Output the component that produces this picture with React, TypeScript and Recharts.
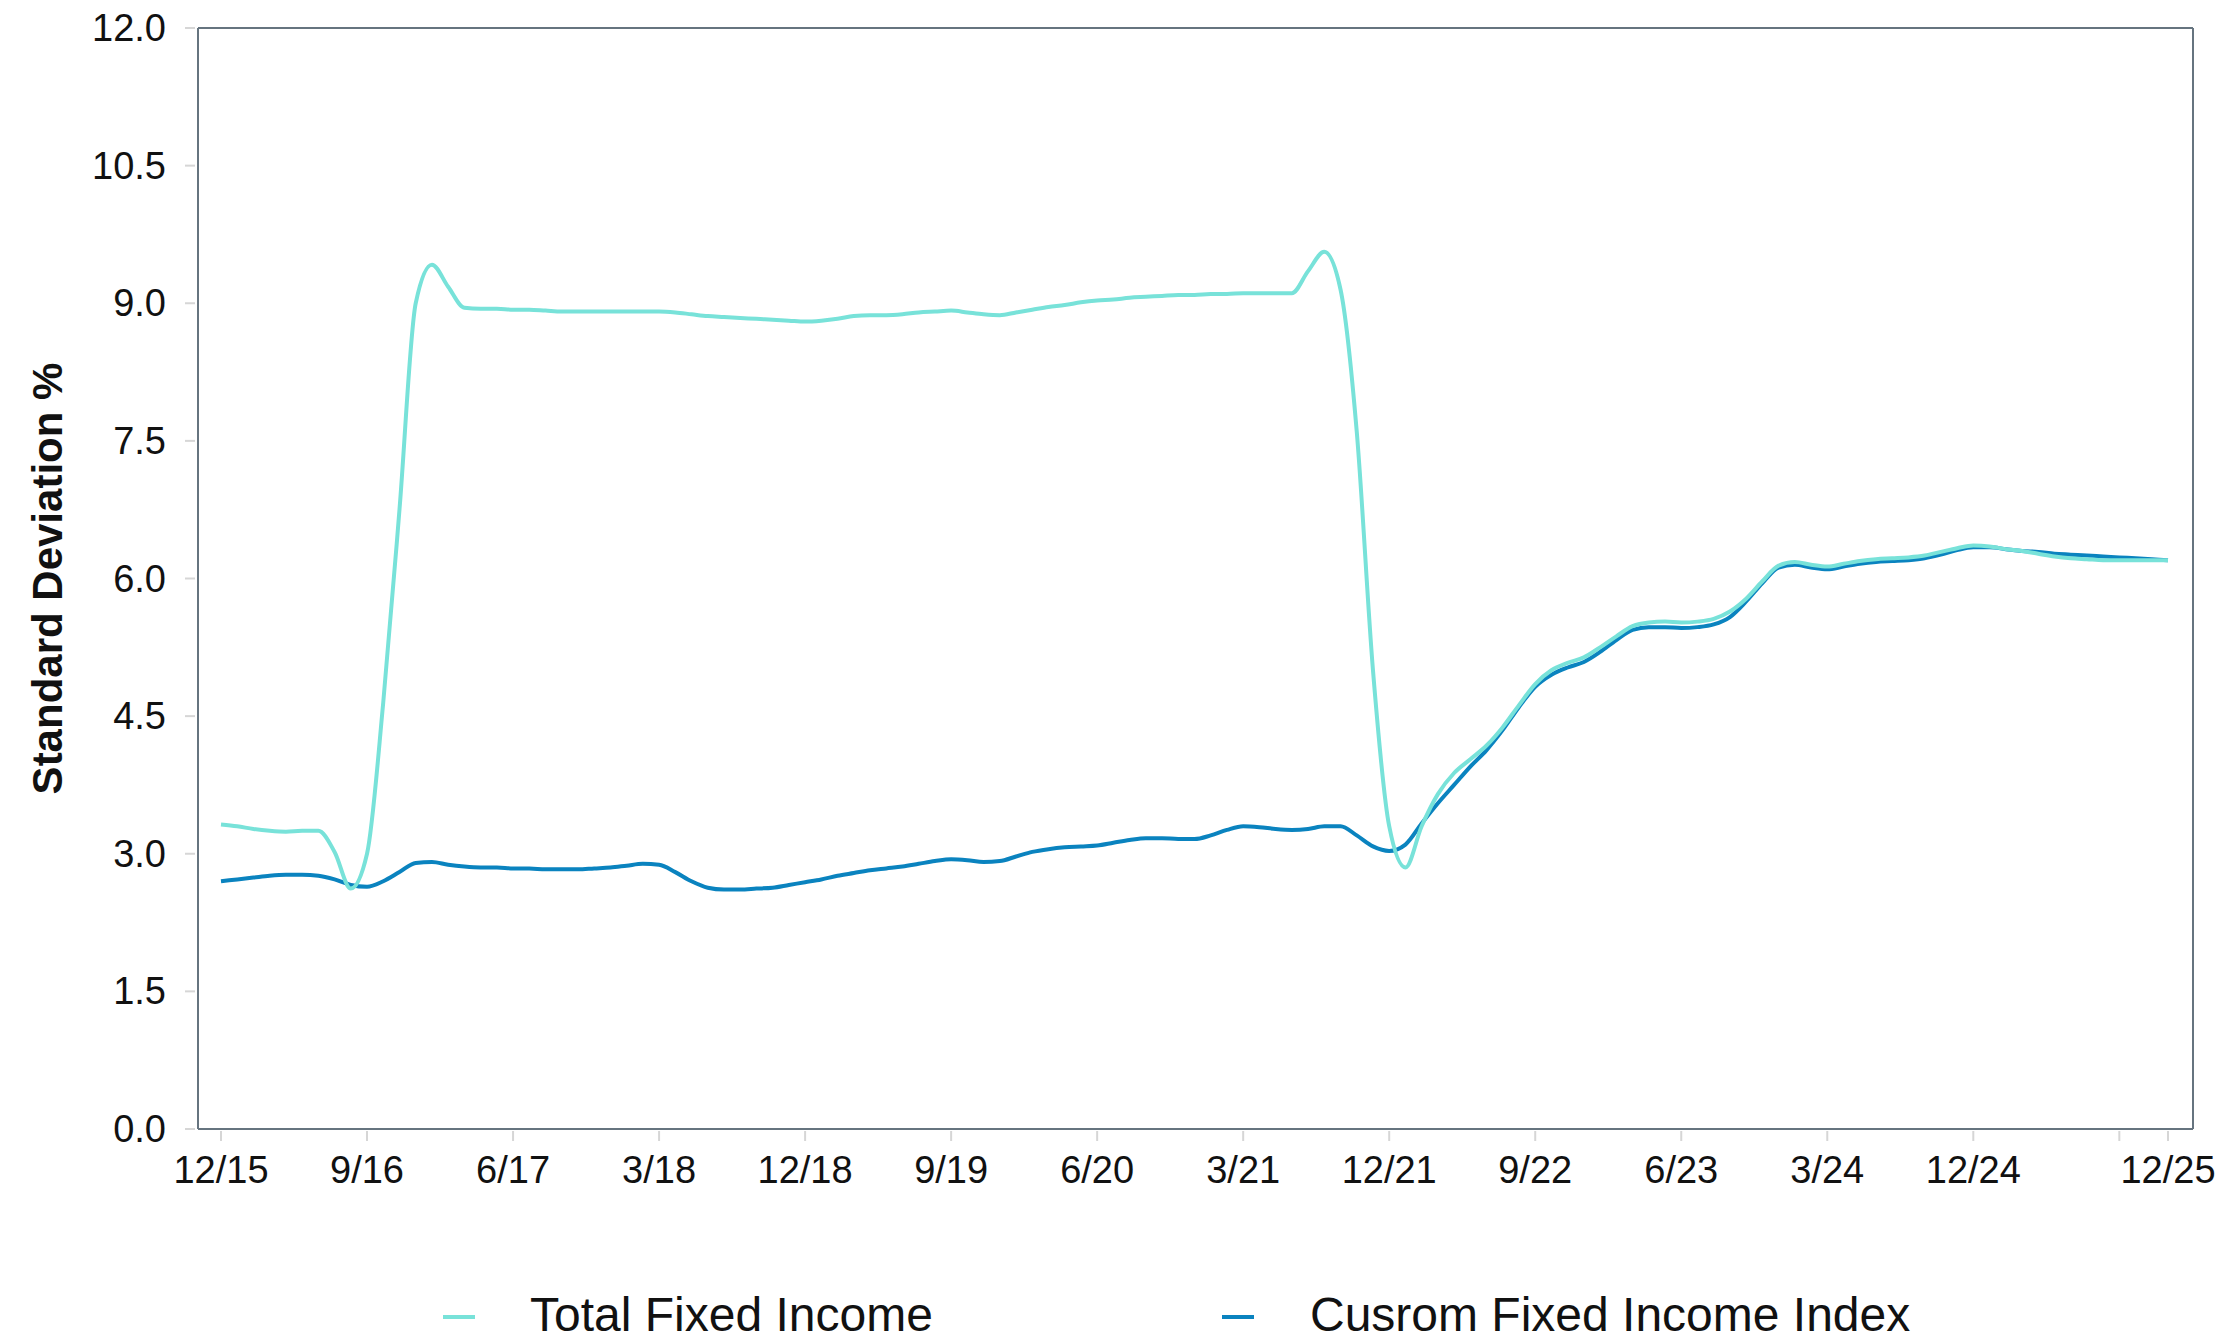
import { LineChart, Line, XAxis, YAxis, CartesianGrid } from "recharts";

// monthly, 12/15 .. 12/25 (index 0..120)
const totalFixedIncome = [
  3.32, 3.30, 3.27, 3.25, 3.24, 3.25, 3.25, 3.02, 2.62, 3.00,
  4.65, 6.75, 9.00, 9.42, 9.18, 8.95, 8.94, 8.94, 8.93, 8.93,
  8.92, 8.91, 8.91, 8.91, 8.91, 8.91, 8.91, 8.91, 8.90, 8.88,
  8.86, 8.85, 8.84, 8.83, 8.82, 8.81, 8.80, 8.81, 8.83, 8.86,
  8.87, 8.87, 8.88, 8.90, 8.91, 8.92, 8.90, 8.88, 8.87, 8.90,
  8.93, 8.96, 8.98, 9.01, 9.03, 9.04, 9.06, 9.07, 9.08, 9.09,
  9.09, 9.10, 9.10, 9.11, 9.11, 9.11, 9.11, 9.35, 9.56, 9.15,
  7.60, 5.00, 3.30, 2.85, 3.30, 3.65, 3.88, 4.03, 4.18, 4.38,
  4.62, 4.85, 5.00, 5.08, 5.14, 5.25, 5.37, 5.48, 5.52, 5.53,
  5.52, 5.53, 5.56, 5.64, 5.78, 5.97, 6.14, 6.18, 6.15, 6.13,
  6.16, 6.19, 6.21, 6.22, 6.23, 6.25, 6.29, 6.33, 6.36, 6.35,
  6.32, 6.30, 6.27, 6.24, 6.22, 6.21, 6.20, 6.20, 6.20, 6.20,
  6.20,
];

const customIndex = [
  2.70, 2.72, 2.74, 2.76, 2.77, 2.77, 2.76, 2.72, 2.66, 2.64,
  2.70, 2.80, 2.90, 2.91, 2.88, 2.86, 2.85, 2.85, 2.84, 2.84,
  2.83, 2.83, 2.83, 2.84, 2.85, 2.87, 2.89, 2.88, 2.80, 2.70,
  2.63, 2.61, 2.61, 2.62, 2.63, 2.66, 2.69, 2.72, 2.76, 2.79,
  2.82, 2.84, 2.86, 2.89, 2.92, 2.94, 2.93, 2.91, 2.92, 2.97,
  3.02, 3.05, 3.07, 3.08, 3.09, 3.12, 3.15, 3.17, 3.17, 3.16,
  3.16, 3.20, 3.26, 3.30, 3.29, 3.27, 3.26, 3.27, 3.30, 3.30,
  3.20, 3.08, 3.03, 3.10, 3.33, 3.55, 3.75, 3.95, 4.13, 4.35,
  4.60, 4.82, 4.95, 5.03, 5.09, 5.20, 5.33, 5.44, 5.47, 5.47,
  5.46, 5.47, 5.50, 5.58, 5.75, 5.95, 6.12, 6.15, 6.12, 6.10,
  6.13, 6.16, 6.18, 6.19, 6.20, 6.22, 6.26, 6.31, 6.34, 6.34,
  6.32, 6.30, 6.29, 6.27, 6.26, 6.25, 6.24, 6.23, 6.22, 6.21,
  6.20,
];

const tickMonths = [0, 9, 18, 27, 36, 45, 54, 63, 72, 81, 90, 99, 108, 117, 120];
const tickLabels = ["12/15", "9/16", "6/17", "3/18", "12/18", "9/19", "6/20", "3/21", "12/21", "9/22", "6/23", "3/24", "12/24", "", "12/25"];
const yTicks = [0, 1.5, 3, 4.5, 6, 7.5, 9, 10.5, 12];

const rows = totalFixedIncome.map((v, i) => ({ m: i, tfi: v, idx: customIndex[i] }));

const FONT = "'Liberation Sans', Arial, Helvetica, sans-serif";
const TEAL = "#78e2d9";
const BLUE = "#0a83bf";
const FRAME = "#66747f";
const TICK = "#d6d6d6";

function XTick({ x, y, payload }: any) {
  const label = tickLabels[tickMonths.indexOf(payload.value)];
  return (
    <g>
      <line x1={x} x2={x} y1={y + 2} y2={y + 12} stroke={TICK} strokeWidth={2} />
      <text x={x} y={y + 54} textAnchor="middle" fontSize={38} fontFamily={FONT} fill="#111">
        {label}
      </text>
    </g>
  );
}

function YTick({ x, y, payload }: any) {
  return (
    <g>
      <line x1={x - 13} x2={x - 3} y1={y} y2={y} stroke={TICK} strokeWidth={2} />
      <text x={x - 32} y={y + 13} textAnchor="end" fontSize={38} fontFamily={FONT} fill="#111">
        {payload.value.toFixed(1)}
      </text>
    </g>
  );
}

function YTitle({ viewBox }: any) {
  const cx = viewBox.x + 47;
  const cy = viewBox.y + viewBox.height / 2;
  return (
    <text
      x={cx}
      y={cy}
      transform={`rotate(-90 ${cx} ${cy})`}
      textAnchor="middle"
      dominantBaseline="central"
      fontSize={42}
      fontWeight="bold"
      fontFamily={FONT}
      fill="#111"
    >
      Standard Deviation %
    </text>
  );
}

export default function App() {
  return (
    <div style={{ position: "absolute", left: 0, top: 0, width: 2238, height: 1340, background: "#fff", overflow: "hidden" }}>
      <LineChart width={2238} height={1340} data={rows} margin={{ top: 28, right: 45, bottom: 131, left: 0 }}>
        <CartesianGrid
          stroke={FRAME}
          strokeWidth={2}
          horizontalCoordinatesGenerator={({ offset }: any) => [offset.top, offset.top + offset.height]}
          verticalCoordinatesGenerator={({ offset }: any) => [offset.left, offset.left + offset.width]}
        />
        <XAxis
          dataKey="m"
          type="number"
          domain={[0, 120]}
          ticks={tickMonths}
          interval={0}
          padding={{ left: 23, right: 25 }}
          height={80}
          tickSize={0}
          tickMargin={0}
          tickLine={false}
          axisLine={{ stroke: FRAME, strokeWidth: 2 }}
          tick={<XTick />}
        />
        <YAxis
          type="number"
          domain={[0, 12]}
          ticks={yTicks}
          interval={0}
          width={198}
          tickSize={0}
          tickMargin={0}
          tickLine={false}
          axisLine={{ stroke: FRAME, strokeWidth: 2 }}
          tick={<YTick />}
          label={<YTitle />}
        />
        <Line type="monotone" dataKey="idx" stroke={BLUE} strokeWidth={4} dot={false} isAnimationActive={false} />
        <Line type="monotone" dataKey="tfi" stroke={TEAL} strokeWidth={4} dot={false} isAnimationActive={false} />
      </LineChart>

      {/* LEGEND */}
      <svg width={2238} height={80} style={{ position: "absolute", left: 0, top: 1260 }}>
        <line x1={443} x2={475} y1={57} y2={57} stroke={TEAL} strokeWidth={4} />
        <text x={530} y={71} fontSize={48} fontFamily={FONT} fill="#111">Total Fixed Income</text>
        <line x1={1222} x2={1254} y1={57} y2={57} stroke={BLUE} strokeWidth={4} />
        <text x={1310} y={71} fontSize={48} fontFamily={FONT} fill="#111">Cusrom Fixed Income Index</text>
      </svg>
    </div>
  );
}
